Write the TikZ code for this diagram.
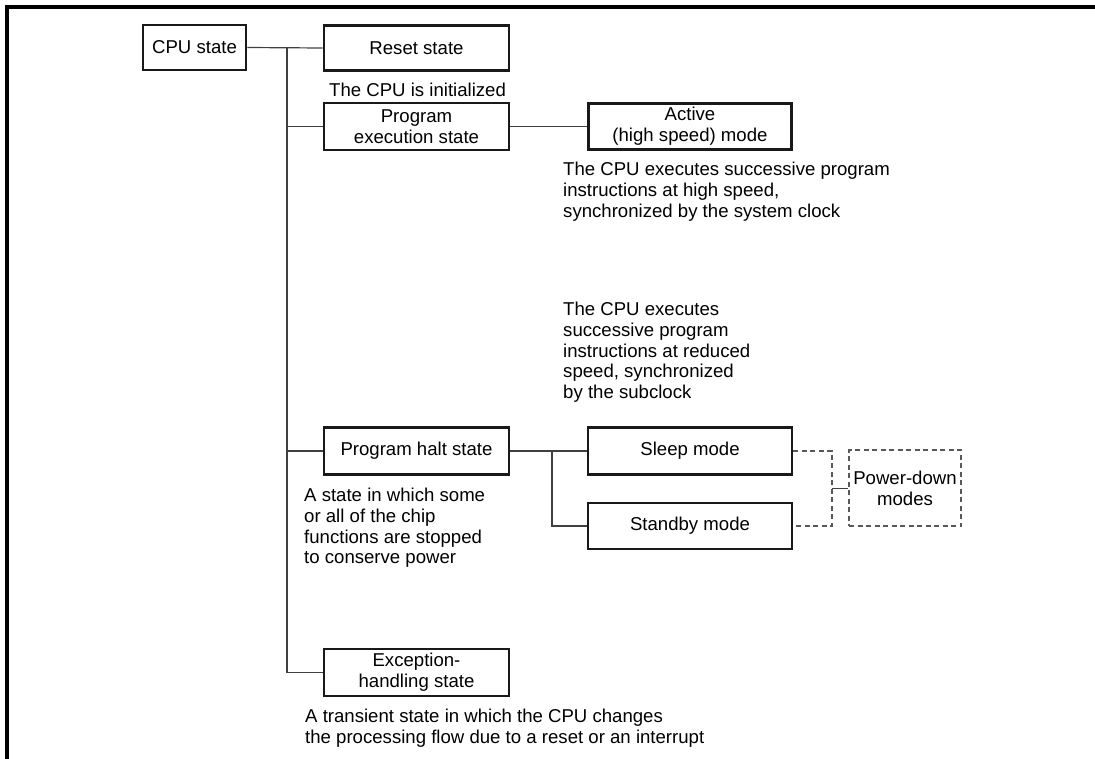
\documentclass[tikz,border=0pt]{standalone}
\usepackage{fontspec}
\setmainfont{Liberation Sans}
\newcommand\dgfont{\fontsize{18.6}{20.7}\selectfont}
\begin{document}
\begin{tikzpicture}[x=1pt,y=-1pt,
  box/.style={draw=black!90, line width=2.8pt, inner sep=0pt, align=center, font=\dgfont, minimum height=46pt},
  conn/.style={draw=black!75, line width=1.2pt},
  pd/.style={draw=black!65, line width=1.1pt, dash pattern=on 5pt off 3.5pt},
  desc/.style={anchor=north west, inner sep=0pt, align=left, font=\dgfont},
  frame/.style={draw=black, line width=3.5pt}]
\useasboundingbox (0,0) rectangle (1095,758);
\draw[frame] (7,760) -- (7,7) -- (1097,7);

\node[box, minimum width=103pt, minimum height=45pt] (cpu) at (194.5,47.5) {CPU state};
\node[box, minimum width=185pt, minimum height=45pt] (reset) at (416.5,48) {Reset state};
\node[box, minimum width=185pt, minimum height=47pt] (prog) at (416.5,126.5) {Program\\execution state};
\node[box, minimum width=203pt] (active) at (690,126.5) {Active\\(high speed) mode};
\node[box, minimum width=185pt, minimum height=47pt] (halt) at (416.5,451) {Program halt state};
\node[box, minimum width=204pt, minimum height=47pt] (sleep) at (690,451) {Sleep mode};
\node[box, minimum width=204pt] (standby) at (690,526) {Standby mode};
\node[box, minimum width=185pt, minimum height=47pt] (exc) at (416.5,672.5) {Exception-\\handling state};
\node[box, pd, minimum width=112pt, minimum height=76pt] (power) at (905,488) {Power-down\\modes};

\node[desc] (d1) at (329,82) {\strut The CPU is initialized};
\node[desc] (d2) at (563,161) {\strut The CPU executes successive program\\instructions at high speed,\\synchronized by the system clock};
\node[desc] (d3) at (563,301) {\strut The CPU executes\\successive program\\instructions at reduced\\speed, synchronized\\by the subclock};
\node[desc] (d4) at (304,487) {\strut A state in which some\\or all of the chip\\functions are stopped\\to conserve power};
\node[desc] (d5) at (305,708) {\strut A transient state in which the CPU changes\\the processing flow due to a reset or an interrupt};

\coordinate (tk) at (287,0);
\coordinate (br) at (552,0);
\coordinate (dk) at (832,0);

\draw[conn] (cpu.east) -- (reset.west);
\draw[conn] (tk |- reset.west) -- (tk |- exc.west) -- (exc.west);
\draw[conn] (tk |- prog.west) -- (prog.west);
\draw[conn] (tk |- halt.west) -- (halt.west);
\draw[conn] (prog.east) -- (active.west);
\draw[conn] (halt.east) -- (sleep.west);
\draw[conn] (br |- sleep.west) -- (br |- standby.west) -- (standby.west);
\draw[pd] (sleep.east) -- (dk |- sleep.east) -- (dk |- standby.east) -- (standby.east);
\draw[conn, line width=0.9pt] (dk |- power.west) -- (power.west);
\end{tikzpicture}
\end{document}
